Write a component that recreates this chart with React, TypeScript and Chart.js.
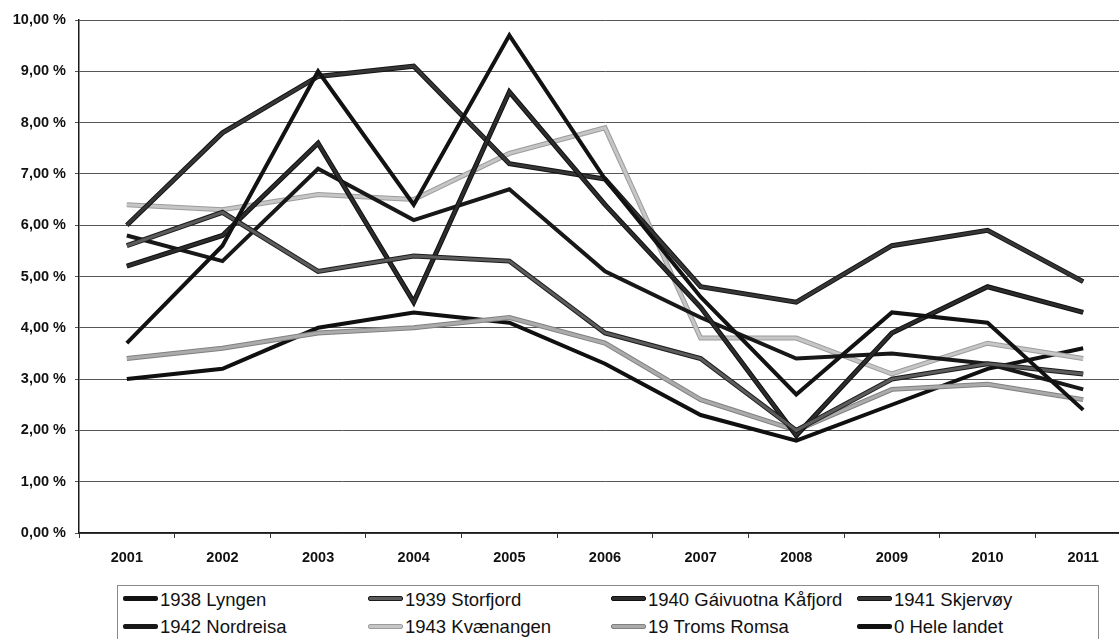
import React, { useEffect, useRef } from "react";
import { Chart, registerables } from "chart.js";

Chart.register(...registerables);

const years = ["2001", "2002", "2003", "2004", "2005", "2006", "2007", "2008", "2009", "2010", "2011"];

const lyngen = [3.7, 5.6, 9.0, 6.4, 9.7, 6.9, 4.6, 2.7, 4.3, 4.1, 2.4];
const storfjord = [5.6, 6.25, 5.1, 5.4, 5.3, 3.9, 3.4, 2.0, 3.0, 3.3, 3.1];
const kafjord = [5.2, 5.8, 7.6, 4.5, 8.6, 6.4, 4.4, 1.9, 3.9, 4.8, 4.3];
const skjervoy = [6.0, 7.8, 8.9, 9.1, 7.2, 6.9, 4.8, 4.5, 5.6, 5.9, 4.9];
const nordreisa = [5.8, 5.3, 7.1, 6.1, 6.7, 5.1, 4.2, 3.4, 3.5, 3.3, 2.8];
const kvaenangen = [6.4, 6.3, 6.6, 6.5, 7.4, 7.9, 3.8, 3.8, 3.1, 3.7, 3.4];
const troms = [3.4, 3.6, 3.9, 4.0, 4.2, 3.7, 2.6, 2.0, 2.8, 2.9, 2.6];
const heleLandet = [3.0, 3.2, 4.0, 4.3, 4.1, 3.3, 2.3, 1.8, 2.5, 3.2, 3.6];

const seriesNames = [
  "1938 Lyngen",
  "1939 Storfjord",
  "1940 Gáivuotna Kåfjord",
  "1941 Skjervøy",
  "1942 Nordreisa",
  "1943 Kvænangen",
  "19 Troms Romsa",
  "0 Hele landet",
];
const seriesValues = [lyngen, storfjord, kafjord, skjervoy, nordreisa, kvaenangen, troms, heleLandet];
const seriesColors = ["#121212", "#5c5c5c", "#2c2c2c", "#363636", "#181818", "#c6c6c6", "#ababab", "#101010"];
const seriesOutline = [null, "#1c1c1c", "#101010", "#141414", null, "#9c9c9c", "#808080", null];
const seriesWidth = [4, 3, 3, 3, 4, 3, 3, 4];

const FONT = "'Liberation Sans', Arial, sans-serif";

// legend layout: column text x positions
const legendCols = [160, 405, 648, 894];

const outlinePlugin = {
  id: "outline",
  beforeDatasetDraw(chart: any, args: any) {
    const ds = chart.data.datasets[args.index];
    if (!ds.outlineColor) return;
    const pts = args.meta.data;
    if (!pts || !pts.length) return;
    const ctx = chart.ctx;
    ctx.save();
    ctx.beginPath();
    pts.forEach((p: any, i: number) => {
      if (i === 0) ctx.moveTo(p.x, p.y);
      else ctx.lineTo(p.x, p.y);
    });
    ctx.lineWidth = ds.borderWidth + 2;
    ctx.strokeStyle = ds.outlineColor;
    ctx.lineJoin = "miter";
    ctx.stroke();
    ctx.restore();
  },
};

export default function App() {
  const ref = useRef<HTMLCanvasElement>(null);

  useEffect(() => {
    if (!ref.current) return;
    const chart = new Chart(ref.current, {
      type: "line",
      data: {
        labels: years,
        datasets: seriesNames.map((name, i) => ({
          label: name,
          data: seriesValues[i],
          borderColor: seriesColors[i],
          backgroundColor: seriesColors[i],
          borderWidth: seriesWidth[i],
          outlineColor: seriesOutline[i],
          pointRadius: 0,
          tension: 0,
          fill: false,
        })) as any,
      },
      options: {
        responsive: false,
        animation: false,
        devicePixelRatio: 1,
        layout: { padding: { top: 20, right: 9, left: 0, bottom: 0 } },
        plugins: {
          legend: { display: false },
          tooltip: { enabled: false },
        },
        scales: {
          x: {
            offset: true,
            afterFit: (s: any) => {
              s.height = 47;
            },
            grid: {
              offset: true,
              drawOnChartArea: false,
              drawTicks: true,
              tickLength: 5,
              color: "#333",
            },
            border: { color: "#1a1a1a", width: 1.5 },
            ticks: {
              color: "#111",
              padding: 11,
              maxRotation: 0,
              font: { family: FONT, size: 14.5, weight: "bold" },
            },
          },
          y: {
            min: 0,
            max: 10,
            afterFit: (s: any) => {
              s.width = 79;
            },
            grid: { color: "#555555", lineWidth: 1, tickLength: 4 },
            border: { color: "#1a1a1a", width: 1.5 },
            ticks: {
              stepSize: 1,
              color: "#111",
              padding: 9,
              font: { family: FONT, size: 14.5, weight: "bold" },
              callback: (v: any) => Number(v).toFixed(2).replace(".", ",") + " %",
            },
          },
        },
      },
      plugins: [outlinePlugin],
    });
    return () => chart.destroy();
  }, []);

  return (
    <div
      style={{
        position: "fixed",
        left: 0,
        top: 0,
        width: 1119,
        height: 639,
        overflow: "hidden",
        background: "#fff",
      }}
    >
      <canvas
        ref={ref}
        width={1140}
        height={580}
        style={{ position: "absolute", left: 0, top: 0, width: 1140, height: 580 }}
      />
      <div
        style={{
          position: "absolute",
          left: 117,
          top: 585,
          width: 980,
          height: 80,
          border: "1px solid #8a8a8a",
        }}
      />
      {seriesNames.map((name, i) => {
        const col = i % 4;
        const row = Math.floor(i / 4);
        const textX = legendCols[col];
        const swatchTop = row === 0 ? 596 : 624;
        const textTop = row === 0 ? 590 : 617;
        const outline = seriesOutline[i];
        return (
          <React.Fragment key={name}>
            <div
              style={{
                position: "absolute",
                left: textX - 37,
                top: swatchTop,
                width: 35,
                height: 5,
                boxSizing: "border-box",
                background: seriesColors[i],
                border: outline ? `1px solid ${outline}` : "none",
                borderRadius: 2,
              }}
            />
            <div
              style={{
                position: "absolute",
                left: textX,
                top: textTop,
                fontFamily: FONT,
                fontSize: 18.5,
                lineHeight: "20px",
                color: "#111",
                whiteSpace: "nowrap",
              }}
            >
              {name}
            </div>
          </React.Fragment>
        );
      })}
    </div>
  );
}
